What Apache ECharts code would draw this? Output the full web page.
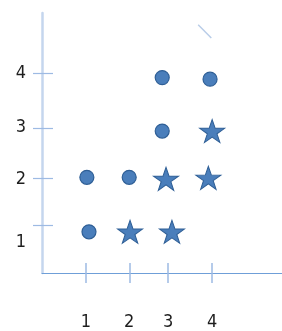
<!DOCTYPE html>
<html>
<head>
<meta charset="utf-8">
<script src="https://cdn.jsdelivr.net/npm/echarts@6/dist/echarts.min.js"></script>
<style>
  html, body { margin: 0; padding: 0; background: #fff; }
  #chart { width: 282px; height: 331px; }
</style>
</head>
<body>
<div id="chart"></div>
<script>
var dom = document.getElementById("chart");
var chart = echarts.init(dom);

// tick labels and where they sit
var xTickLabels = ['1', '2', '3', '4'];
var xTickPos = [1.04, 2.08, 2.98, 4.0];
var xLabelPos = [1.04, 2.06, 2.98, 4.02];
var yTickLabels = ['1', '2', '3', '4'];
var yTickPos = [1.06, 1.99, 2.97, 4.04];
var yLabelPos = [0.73, 1.97, 2.99, 4.04];

// marks
var circles = [[1.06, 2.0], [1.11, 0.93], [2.06, 2.0], [2.84, 3.96], [2.84, 2.91], [3.97, 3.93]];
var stars = [[2.08, 0.93], [2.93, 1.97], [3.07, 0.93], [4.02, 2.91], [3.93, 1.99]];
var stroke = [[3.69, 5.0], [4.0, 4.74]];

var star = 'path://M50,0 L61.8,35.1 L98.9,35.1 L68.9,56.9 L80.2,92 L50,70.3 L19.8,92 L31.1,56.9 L1.1,35.1 L38.2,35.1 Z';
var tickColor = '#9dbae3';
var labelStyle = { color: '#1e1e1e', fontFamily: '"Liberation Sans Narrow", "DejaVu Sans Condensed", sans-serif', fontSize: 18 };

function pick(pos, labels) {
  return function (v) {
    for (var i = 0; i < pos.length; i++) {
      if (Math.abs(pos[i] - v) < 1e-6) return labels[i];
    }
    return '';
  };
}

var option = {
  animation: false,
  grid: { left: 42, right: 0, top: 13, bottom: 56 },
  xAxis: [
    {
      type: 'value', min: 0, max: 5.67,
      splitLine: { show: false },
      axisLine: { show: true, lineStyle: { color: '#6f9fd8', width: 1 } },
      axisTick: { show: true, inside: false, length: 10, customValues: xTickPos, lineStyle: { color: tickColor, width: 1.5 } },
      axisLabel: Object.assign({ margin: 40, customValues: xLabelPos, formatter: pick(xLabelPos, xTickLabels) }, labelStyle)
    },
    {
      type: 'value', min: 0, max: 5.67, position: 'bottom',
      splitLine: { show: false },
      axisLine: { show: false },
      axisTick: { show: true, inside: true, length: 10, customValues: xTickPos, lineStyle: { color: tickColor, width: 1.5 } },
      axisLabel: { show: false }
    }
  ],
  yAxis: [
    {
      type: 'value', min: 0.12, max: 5.23,
      splitLine: { show: false },
      axisLine: { show: true, lineStyle: { color: '#c5d6ee', width: 2.5 } },
      axisTick: { show: true, inside: false, length: 9, customValues: yTickPos, lineStyle: { color: tickColor, width: 1.2 } },
      axisLabel: Object.assign({ margin: 16, customValues: yLabelPos, formatter: pick(yLabelPos, yTickLabels) }, labelStyle)
    },
    {
      type: 'value', min: 0.12, max: 5.23, position: 'left',
      splitLine: { show: false },
      axisLine: { show: false },
      axisTick: { show: true, inside: true, length: 11, customValues: yTickPos, lineStyle: { color: tickColor, width: 1.2 } },
      axisLabel: { show: false }
    }
  ],
  series: [
    {
      type: 'scatter',
      data: circles,
      symbol: 'circle',
      symbolSize: 14,
      itemStyle: { color: '#4a7ebb', borderColor: '#2f5f96', borderWidth: 1.2, opacity: 1 }
    },
    {
      type: 'scatter',
      data: stars,
      symbol: star,
      symbolSize: [25, 23],
      itemStyle: { color: '#4a7ebb', borderColor: '#2f5f96', borderWidth: 1, opacity: 1 }
    },
    {
      type: 'line',
      data: stroke,
      symbol: 'none',
      lineStyle: { color: '#b9cde8', width: 1.5 }
    }
  ]
};

chart.setOption(option);
</script>
</body>
</html>
